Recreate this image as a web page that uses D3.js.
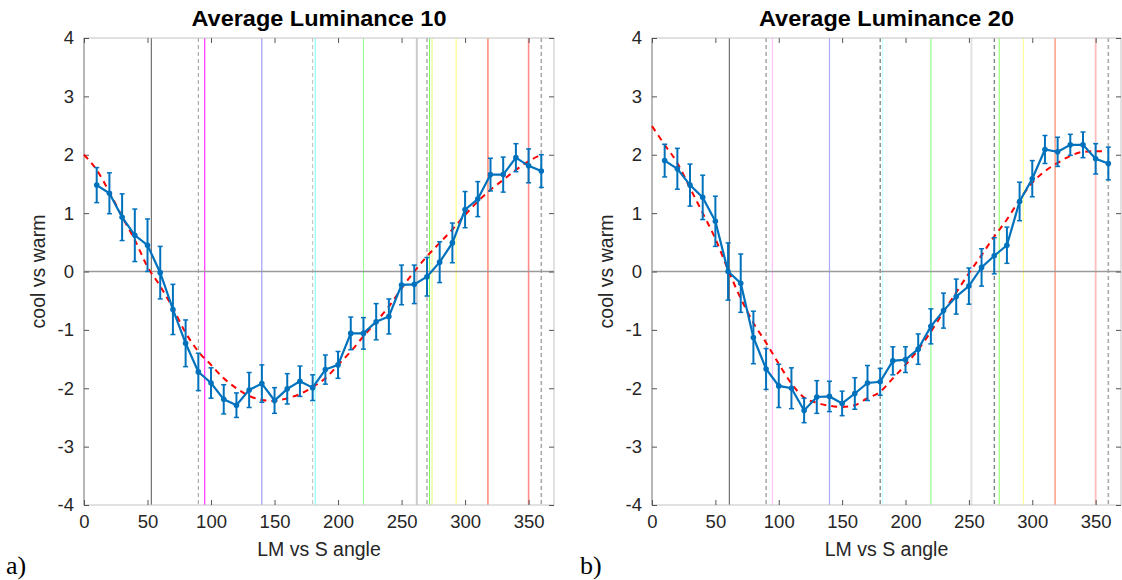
<!DOCTYPE html>
<html><head><meta charset="utf-8">
<script src="https://cdn.jsdelivr.net/npm/d3@7"></script>
<style>body{margin:0;background:#fff}svg{display:block}</style>
</head><body>
<svg id="c" width="1122" height="580"></svg>
<script>
const angles = [10,20,30,40,50,60,70,80,90,100,110,120,130,140,150,160,170,180,190,200,210,220,230,240,250,260,270,280,290,300,310,320,330,340,350,360];
const lum10Mean = [1.48,1.34,0.93,0.62,0.45,-0.02,-0.65,-1.23,-1.72,-1.91,-2.19,-2.29,-2.03,-1.92,-2.21,-2.01,-1.88,-1.99,-1.68,-1.60,-1.06,-1.06,-0.86,-0.77,-0.23,-0.22,-0.09,0.16,0.49,1.06,1.24,1.66,1.66,1.95,1.81,1.72];
const lum10Err = [0.30,0.35,0.40,0.45,0.45,0.45,0.43,0.40,0.32,0.26,0.25,0.21,0.30,0.32,0.22,0.26,0.26,0.22,0.25,0.23,0.28,0.27,0.31,0.30,0.34,0.33,0.33,0.35,0.34,0.31,0.30,0.28,0.30,0.24,0.29,0.28];
const lum20Mean = [1.90,1.76,1.48,1.27,0.86,0.00,-0.20,-1.13,-1.67,-1.96,-2.00,-2.38,-2.15,-2.14,-2.26,-2.09,-1.91,-1.89,-1.53,-1.51,-1.33,-0.94,-0.67,-0.43,-0.25,0.07,0.27,0.45,1.20,1.59,2.09,2.05,2.17,2.17,1.93,1.85];
const lum20Err = [0.28,0.35,0.36,0.38,0.43,0.49,0.50,0.45,0.35,0.37,0.35,0.21,0.28,0.26,0.21,0.27,0.30,0.23,0.24,0.22,0.26,0.30,0.30,0.30,0.31,0.32,0.31,0.31,0.33,0.31,0.24,0.25,0.18,0.22,0.26,0.28];

const fit10Angles = [0,10,20,30,40,50,60,70,80,90,100,110,120,130,140,150,160,170,180,190,200,210,220,230,240,250,260,270,280,290,300,310,320,330,340,350,360];
const fit10 = [2.0,1.74,1.36,0.94,0.54,0.08,-0.25,-0.63,-1.05,-1.37,-1.6,-1.83,-2.0,-2.13,-2.2,-2.22,-2.17,-2.1,-1.98,-1.83,-1.6,-1.37,-1.11,-0.86,-0.6,-0.29,0.0,0.26,0.49,0.72,0.97,1.2,1.4,1.57,1.74,1.89,2.0];
const fit20Angles = [0,10,20,30,40,50,60,70,80,90,100,110,120,130,140,150,160,170,180,190,200,210,220,230,240,250,260,270,280,290,300,310,320,330,340,350,355];
const fit20 = [2.49,2.17,1.86,1.43,1.0,0.56,0.03,-0.46,-0.88,-1.22,-1.58,-1.92,-2.16,-2.25,-2.3,-2.32,-2.29,-2.17,-2.06,-1.83,-1.6,-1.34,-1.03,-0.69,-0.36,-0.03,0.28,0.6,0.89,1.23,1.52,1.72,1.86,1.98,2.05,2.06,2.06];

const ref10Angles = [53,90,95,140,180,182,220,262,270,272,274,293,318,350,360];
const ref20Angles = [61,90,95,140,180,182,220,252,270,274,293,318,350,360];

const xTicks = [0,50,100,150,200,250,300,350];
const yTicks = [-4,-3,-2,-1,0,1,2,3,4];
const titles = ["Average Luminance 10","Average Luminance 20"];
const panelLabels = ["a)","b)"];
const xLabel = "LM vs S angle";
const yLabel = "cool vs warm";

// styles (kept separate from data)
const ref10Style = [
  {c:"#555",w:1,d:null},{c:"#999",w:1,d:"4,3"},{c:"#ff44ff",w:1.3,d:null},{c:"#8f86ff",w:1,d:null},
  {c:"#bbb",w:1,d:"4,3"},{c:"#7ff",w:1,d:null},{c:"#88ff88",w:1,d:null},{c:"#ccc",w:2,d:null},
  {c:"#888",w:1,d:"4,3"},{c:"#77ff55",w:1,d:null},{c:"#ddff77",w:1,d:null},{c:"#ffff88",w:1.2,d:null},
  {c:"#ff6a4a",w:1.2,d:null},{c:"#ff8c8c",w:1.6,d:null},{c:"#aaa",w:1.6,d:"4,3"}
];
const ref20Style = [
  {c:"#555",w:1,d:null},{c:"#777",w:1,d:"4,3"},{c:"#ffc4ff",w:1.2,d:null},{c:"#aaaaff",w:1.2,d:null},
  {c:"#555",w:1,d:"4,3"},{c:"#c4ffff",w:1.2,d:null},{c:"#a6ffa0",w:1.4,d:null},{c:"#e2e2e2",w:2,d:null},
  {c:"#555",w:1,d:"4,3"},{c:"#a8ff8c",w:1.4,d:null},{c:"#ffff99",w:1.2,d:null},
  {c:"#ff8466",w:1.2,d:null},{c:"#ffbcbc",w:1.8,d:null},{c:"#aaa",w:1.6,d:"4,3"}
];

const svg = d3.select("#c");
const FONT = "'Liberation Sans', Arial, Helvetica, sans-serif";
const blue = "#0072BD";

const panels = [
  {x0:84, x1:554, mean:lum10Mean, err:lum10Err, fa:fit10Angles, fv:fit10, ra:ref10Angles, rs:ref10Style, lab:0},
  {x0:652, x1:1121, mean:lum20Mean, err:lum20Err, fa:fit20Angles, fv:fit20, ra:ref20Angles, rs:ref20Style, lab:1}
];
const yTop = 38, yBot = 505;

panels.forEach((p, i) => {
  const x = d3.scaleLinear().domain([0,370]).range([p.x0, p.x1]);
  const y = d3.scaleLinear().domain([-4,4]).range([yBot, yTop]);
  const g = svg.append("g");

  g.selectAll("line.ref").data(p.ra).enter().append("line")
    .attr("x1", d => x(d)).attr("x2", d => x(d))
    .attr("y1", yTop).attr("y2", yBot)
    .attr("stroke", (d,k) => p.rs[k].c)
    .attr("stroke-width", (d,k) => p.rs[k].w)
    .attr("stroke-dasharray", (d,k) => p.rs[k].d);

  g.append("line").attr("x1", p.x0).attr("x2", p.x1).attr("y1", y(0)).attr("y2", y(0))
    .attr("stroke", "#9a9a9a").attr("stroke-width", 1.5);

  g.append("rect").attr("x", p.x0).attr("y", yTop).attr("width", p.x1 - p.x0).attr("height", yBot - yTop)
    .attr("fill", "none").attr("stroke", "#c4c4c4").attr("stroke-width", 1);
  g.append("line").attr("x1", p.x0).attr("x2", p.x0).attr("y1", yTop).attr("y2", yBot)
    .attr("stroke", "#a8a8a8").attr("stroke-width", 1.5);

  const axB = d3.axisBottom(x).tickValues(xTicks).tickSizeInner(-5).tickSizeOuter(0).tickPadding(10);
  const gB = g.append("g").attr("transform", `translate(0,${yBot})`).call(axB);
  const axT = d3.axisTop(x).tickValues(xTicks).tickSizeInner(-5).tickSizeOuter(0).tickFormat("");
  const gT = g.append("g").attr("transform", `translate(0,${yTop})`).call(axT);
  const axL = d3.axisLeft(y).tickValues(yTicks).tickSizeInner(-5).tickSizeOuter(0).tickPadding(10);
  const gL = g.append("g").attr("transform", `translate(${p.x0},0)`).call(axL);
  const axR = d3.axisRight(y).tickValues(yTicks).tickSizeInner(-5).tickSizeOuter(0).tickFormat("");
  const gR = g.append("g").attr("transform", `translate(${p.x1},0)`).call(axR);
  [gB,gT,gL,gR].forEach(a => {
    a.select(".domain").remove();
    a.selectAll(".tick line").attr("stroke", "#555").attr("stroke-width", 1);
    a.selectAll("text").attr("font-family", FONT).attr("font-size", 18.5).attr("fill", "#262626");
  });
  gL.selectAll("text").text(d => d < 0 ? "-" + Math.abs(d) : d);

  const fitPts = p.fa.map((a,k) => [a, p.fv[k]]);
  g.append("path").datum(fitPts)
    .attr("d", d3.line().x(d => x(d[0])).y(d => y(d[1])).curve(d3.curveMonotoneX))
    .attr("fill", "none").attr("stroke", "#ff0000").attr("stroke-width", 2)
    .attr("stroke-dasharray", "6,5");

  const pts = angles.map((a,k) => ({a, m:p.mean[k], e:p.err[k]}));
  const eb = g.selectAll("g.eb").data(pts).enter().append("g");
  eb.append("line").attr("x1", d => x(d.a)).attr("x2", d => x(d.a))
    .attr("y1", d => y(d.m + d.e)).attr("y2", d => y(d.m - d.e))
    .attr("stroke", blue).attr("stroke-width", 2);
  eb.append("line").attr("x1", d => x(d.a) - 2.5).attr("x2", d => x(d.a) + 2.5)
    .attr("y1", d => y(d.m + d.e)).attr("y2", d => y(d.m + d.e))
    .attr("stroke", blue).attr("stroke-width", 1.5);
  eb.append("line").attr("x1", d => x(d.a) - 2.5).attr("x2", d => x(d.a) + 2.5)
    .attr("y1", d => y(d.m - d.e)).attr("y2", d => y(d.m - d.e))
    .attr("stroke", blue).attr("stroke-width", 1.5);
  g.append("path").datum(pts)
    .attr("d", d3.line().x(d => x(d.a)).y(d => y(d.m)))
    .attr("fill", "none").attr("stroke", blue).attr("stroke-width", 2.2);
  g.selectAll("circle.m").data(pts).enter().append("circle")
    .attr("cx", d => x(d.a)).attr("cy", d => y(d.m)).attr("r", 2.8).attr("fill", blue);

  const cx = (p.x0 + p.x1) / 2;
  g.append("text").attr("x", cx).attr("y", 26).attr("text-anchor", "middle")
    .attr("font-family", FONT).attr("font-weight", "bold").attr("font-size", 22).attr("fill", "#000")
    .attr("textLength", 255).attr("lengthAdjust", "spacingAndGlyphs")
    .text(titles[i]);
  g.append("text").attr("x", cx).attr("y", 556).attr("text-anchor", "middle")
    .attr("font-family", FONT).attr("font-size", 19.5).attr("fill", "#262626").text(xLabel);
  g.append("text").attr("transform", `translate(${p.x0 - 39},${(yTop + yBot)/2}) rotate(-90)`)
    .attr("text-anchor", "middle").attr("font-family", FONT).attr("font-size", 19.5).attr("fill", "#262626")
    .text(yLabel);
  g.append("text").attr("x", i === 0 ? 6 : 580).attr("y", 574)
    .attr("font-family", "'Liberation Serif', 'Times New Roman', serif").attr("font-size", 26).attr("fill", "#000")
    .text(panelLabels[i]);
});
</script>
</body></html>
